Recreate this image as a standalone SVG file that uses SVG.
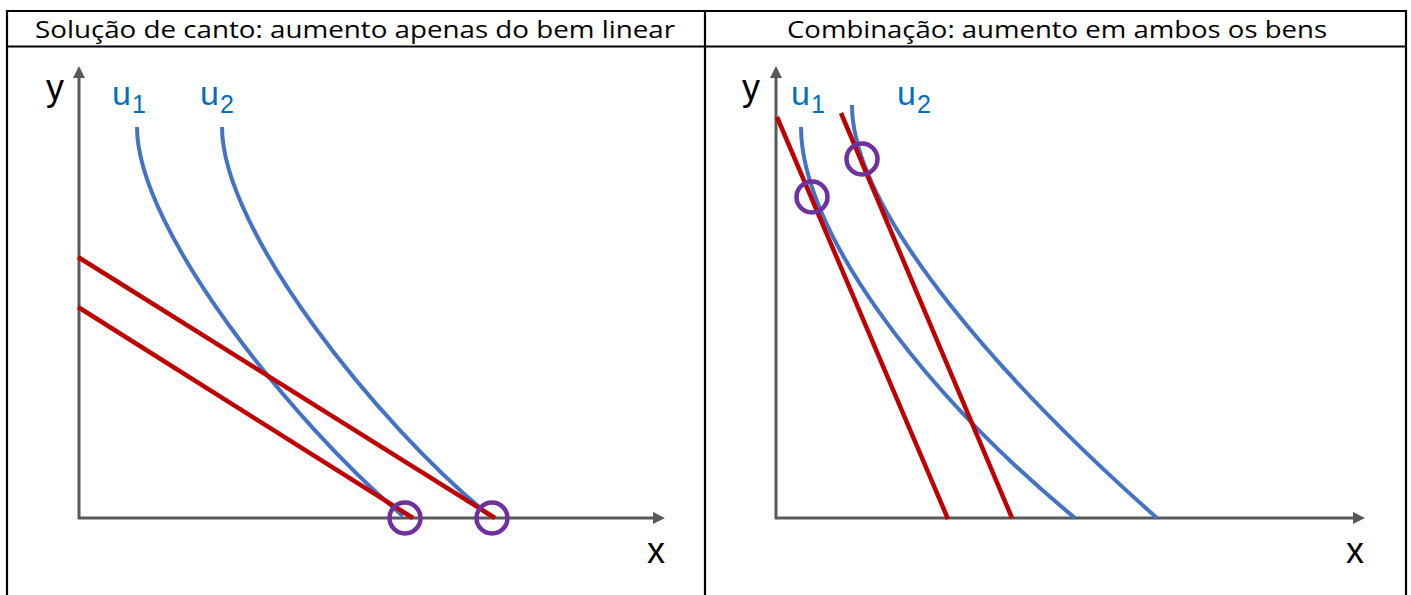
<svg xmlns="http://www.w3.org/2000/svg" width="1411" height="595" viewBox="0 0 1411 595">
<defs>
<style>
.border{fill:none;stroke:#000;stroke-width:2.2}
.hdr{font-family:"Open Sans","Liberation Sans",sans-serif;font-size:24px;fill:#000;text-anchor:middle}
.axis{fill:none;stroke:#595959;stroke-width:3}
.lbl{font-family:"Liberation Sans",Arial,sans-serif;font-size:36px;fill:#000}
.ulbl{font-family:"Liberation Sans",Arial,sans-serif;font-size:34px;fill:#0070C0}
.sub{font-size:25px}
.ic{fill:none;stroke:#4472C4;stroke-width:4}
.bl{fill:none;stroke:#C00000;stroke-width:4.5}
.pt{fill:none;stroke:#7030A0;stroke-width:4.5}
</style>
<marker id="arr" viewBox="0 0 12 12" refX="2" refY="6" markerWidth="12" markerHeight="12" markerUnits="userSpaceOnUse" orient="auto">
<path d="M0,0 L12,6 L0,12 Z" fill="#595959"/>
</marker>
</defs>
<g id="table">
<line class="border" x1="6" y1="11" x2="1407" y2="11"/>
<line class="border" x1="6" y1="46.5" x2="1407" y2="46.5"/>
<line class="border" x1="7" y1="10" x2="7" y2="595"/>
<line class="border" x1="705" y1="10" x2="705" y2="595"/>
<line class="border" x1="1406" y1="10" x2="1406" y2="595"/>
<text class="hdr" x="355" y="38" textLength="640" lengthAdjust="spacingAndGlyphs">Solução de canto: aumento apenas do bem linear</text>
<text class="hdr" x="1057" y="38" textLength="540" lengthAdjust="spacingAndGlyphs">Combinação: aumento em ambos os bens</text>
</g>
<g id="left-chart">
<g id="left-axes">
<line class="axis" x1="79" y1="519" x2="79" y2="76" marker-end="url(#arr)"/>
<line class="axis" x1="78" y1="518" x2="655" y2="518" marker-end="url(#arr)"/>
<text class="lbl" x="46" y="100">y</text>
<text class="lbl" x="647" y="563">x</text>
</g>
<g id="left-u1">
<path class="ic" d="M137,127 C137,230 295,425 403,516"/>
<text class="ulbl" x="112" y="105">u<tspan class="sub" dx="1" dy="8">1</tspan></text>
</g>
<g id="left-u2">
<path class="ic" d="M222,127 C222,230 378,425 490,516"/>
<text class="ulbl" x="200" y="105">u<tspan class="sub" dx="1" dy="8">2</tspan></text>
</g>
<g id="left-budget">
<line class="bl" x1="78" y1="257" x2="495" y2="518"/>
<line class="bl" x1="78" y1="307" x2="413" y2="518"/>
</g>
<g id="left-optima">
<circle class="pt" cx="405" cy="518" r="15.5"/>
<circle class="pt" cx="492" cy="518" r="15.5"/>
</g>
</g>
<g id="right-chart">
<g id="right-axes">
<line class="axis" x1="776" y1="519" x2="776" y2="76" marker-end="url(#arr)"/>
<line class="axis" x1="775" y1="518" x2="1355" y2="518" marker-end="url(#arr)"/>
<text class="lbl" x="742" y="100">y</text>
<text class="lbl" x="1346" y="563">x</text>
</g>
<g id="right-u1">
<path class="ic" d="M801,127 C801,230 920,390 1075,518"/>
<text class="ulbl" x="791" y="105">u<tspan class="sub" dx="1" dy="8">1</tspan></text>
</g>
<g id="right-u2">
<path class="ic" d="M852,105 C852,215 1012,390 1157,518"/>
<text class="ulbl" x="897" y="105">u<tspan class="sub" dx="1" dy="8">2</tspan></text>
</g>
<g id="right-budget">
<line class="bl" x1="777" y1="117" x2="948" y2="519"/>
<line class="bl" x1="841" y1="113" x2="1012" y2="518"/>
</g>
<g id="right-optima">
<circle class="pt" cx="812" cy="197" r="15.5"/>
<circle class="pt" cx="862" cy="159" r="15.5"/>
</g>
</g>
</svg>
